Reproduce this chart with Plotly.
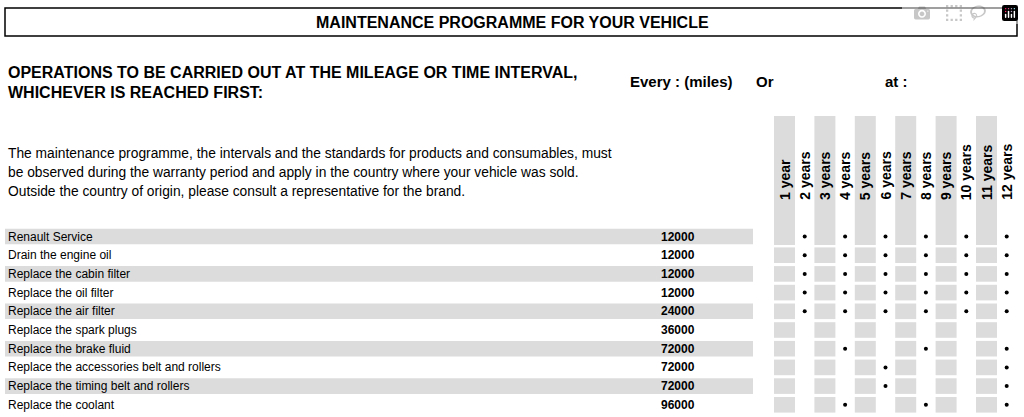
import plotly.graph_objects as go

operations = ["Renault Service", "Drain the engine oil", "Replace the cabin filter",
              "Replace the oil filter", "Replace the air filter", "Replace the spark plugs",
              "Replace the brake fluid", "Replace the accessories belt and rollers",
              "Replace the timing belt and rollers", "Replace the coolant"]
miles = [12000, 12000, 12000, 12000, 24000, 36000, 72000, 72000, 72000, 96000]
years = ["1 year"] + [f"{n} years" for n in range(2, 13)]
# year numbers at which each operation is due
due_years = [
    [2, 4, 6, 8, 10, 12],
    [2, 4, 6, 8, 10, 12],
    [2, 4, 6, 8, 10, 12],
    [2, 4, 6, 8, 10, 12],
    [2, 4, 6, 8, 10, 12],
    [],
    [4, 8, 12],
    [6, 12],
    [6, 12],
    [4, 8, 12],
]

FONT = "Liberation Sans, Arial"
row_y0, row_dy = 236.5, 18.7
col_x0, col_dx = 784.5, 20.2

fig = go.Figure()
shapes = []
ann = []

# title box
shapes.append(dict(type="rect", x0=5, x1=1017, y0=8, y1=36, line=dict(color="black", width=1.5)))
ann.append(dict(x=512, y=22, text="<b>MAINTENANCE PROGRAMME FOR YOUR VEHICLE</b>", font=dict(size=16)))
ann.append(dict(x=6, y=72, text="<b>OPERATIONS TO BE CARRIED OUT AT THE MILEAGE OR TIME INTERVAL,</b>",
                xanchor="left", font=dict(size=16)))
ann.append(dict(x=6, y=92, text="<b>WHICHEVER IS REACHED FIRST:</b>", xanchor="left", font=dict(size=16)))
ann.append(dict(x=628, y=81, text="<b>Every : (miles)</b>", xanchor="left", font=dict(size=15)))
ann.append(dict(x=754, y=81, text="<b>Or</b>", xanchor="left", font=dict(size=15)))
ann.append(dict(x=883, y=81, text="<b>at :</b>", xanchor="left", font=dict(size=15)))
para = ["The maintenance programme, the intervals and the standards for products and consumables, must",
        "be observed during the warranty period and apply in the country where your vehicle was sold.",
        "Outside the country of origin, please consult a representative for the brand."]
for i, line in enumerate(para):
    ann.append(dict(x=6, y=153 + i * 19, text=line, xanchor="left", font=dict(size=13.8)))

# year columns
for j, label in enumerate(years):
    cx = col_x0 + j * col_dx
    if j % 2 == 0:
        shapes.append(dict(type="rect", x0=cx - 10.5, x1=cx + 10.5, y0=116, y1=245,
                           fillcolor="#dcdcdc", line_width=0, layer="below"))
    ann.append(dict(x=cx, y=202, text=f"<b>{label}</b>", textangle=-90, yanchor="bottom",
                    font=dict(size=14)))

# rows
for i, (op, m) in enumerate(zip(operations, miles)):
    cy = row_y0 + i * row_dy
    if i % 2 == 0:
        shapes.append(dict(type="rect", x0=5, x1=753, y0=cy - 7.8, y1=cy + 7.8,
                           fillcolor="#dcdcdc", line_width=0, layer="below"))
    ann.append(dict(x=6, y=cy, text=op, xanchor="left", font=dict(size=12)))
    ann.append(dict(x=697, y=cy, text=f"<b>{m}</b>", xanchor="right", font=dict(size=12)))
    if i > 0:
        for j in range(0, 12, 2):
            cx = col_x0 + j * col_dx
            shapes.append(dict(type="rect", x0=cx - 10.5, x1=cx + 10.5, y0=cy - 7.8, y1=cy + 7.8,
                               fillcolor="#dcdcdc", line_width=0, layer="below"))

xs, ys = [], []
for i, yrs in enumerate(due_years):
    for n in yrs:
        xs.append(col_x0 + (n - 1) * col_dx)
        ys.append(row_y0 + i * row_dy)
fig.add_trace(go.Scatter(x=xs, y=ys, mode="markers", marker=dict(color="black", size=4),
                         hoverinfo="skip", showlegend=False))

for a in ann:
    a.setdefault("showarrow", False)
    a.setdefault("xref", "x")
    a.setdefault("yref", "y")
    a["font"] = dict(family=FONT, color="black", **a["font"])

fig.update_layout(
    width=1024, height=417, margin=dict(l=0, r=0, t=0, b=0),
    plot_bgcolor="white", paper_bgcolor="white",
    xaxis=dict(range=[0, 1024], visible=False, fixedrange=True),
    yaxis=dict(range=[417, 0], visible=False, fixedrange=True),
    shapes=shapes, annotations=ann,
)
fig.write_html("out.html", post_script="document.body.style.margin='0';")
